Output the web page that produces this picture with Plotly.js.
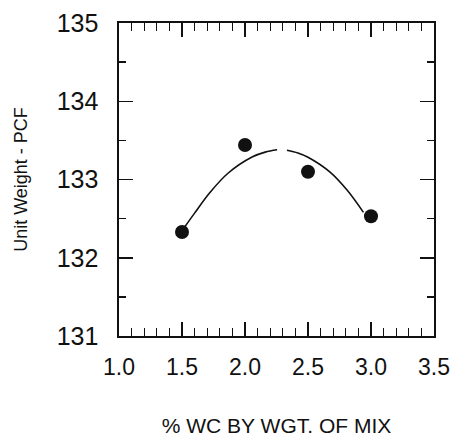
<!DOCTYPE html>
<html><head><meta charset="utf-8">
<script src="https://cdn.plot.ly/plotly-3.0.1.min.js"></script>
<style>html,body{margin:0;padding:0;background:#fff}</style>
</head><body><div id="chart" style="width:458px;height:438px"></div>
<script>
const pointX = [1.5, 2.0, 2.5, 3.0];
const pointY = [132.33, 133.44, 133.1, 132.53];
const curveX = [1.52, 1.6, 1.72, 1.865, 2.06, 2.16, 2.255, null, 2.333, 2.42, 2.5, 2.675, 2.81, 2.94];
const curveY = [132.39, 132.57, 132.83, 133.08, 133.29, 133.35, 133.38, null, 133.375, 133.34, 133.285, 133.095, 132.865, 132.58];
const xTicks = [1.0, 1.5, 2.0, 2.5, 3.0, 3.5];
const xTickText = ['1.0', '1.5', '2.0', '2.5', '3.0', '3.5'];
const yTicks = [131, 132, 133, 134, 135];

const font = 'Liberation Sans, Arial, Helvetica, sans-serif';
Plotly.newPlot('chart', [
  {x: curveX, y: curveY, mode: 'lines', line: {color: '#111', width: 1.6, shape: 'spline', smoothing: 1}, connectgaps: false, hoverinfo: 'skip'},
  {x: pointX, y: pointY, mode: 'markers', marker: {color: '#111', size: 14}}
], {
  width: 458, height: 438,
  margin: {l: 119, r: 24, t: 23, b: 102},
  showlegend: false,
  paper_bgcolor: '#fff', plot_bgcolor: '#fff',
  font: {family: font, color: '#111'},
  xaxis: {
    range: [1.0, 3.5], tickvals: xTicks, ticktext: xTickText,
    ticks: 'inside', ticklen: 14, tickwidth: 1.5, tickcolor: '#111',
    minor: {dtick: 0.1, tick0: 1.0, ticks: 'inside', ticklen: 8, tickwidth: 1.3, tickcolor: '#111'},
    showline: true, linecolor: '#111', linewidth: 1.6, mirror: 'ticks',
    showgrid: false, zeroline: false, ticklabelstandoff: 10,
    tickfont: {size: 23, family: font, color: '#111'},
    title: {text: '% WC BY WGT. OF MIX', font: {size: 21, family: font, color: '#111'}, standoff: 39}
  },
  yaxis: {
    range: [131, 135], tickvals: yTicks,
    ticks: 'inside', ticklen: 14, tickwidth: 1.5, tickcolor: '#111',
    minor: {dtick: 0.5, tick0: 131, ticks: 'inside', ticklen: 7, tickwidth: 1.3, tickcolor: '#111'},
    showline: true, linecolor: '#111', linewidth: 1.6, mirror: 'ticks',
    showgrid: false, zeroline: false, ticklabelstandoff: 14,
    tickfont: {size: 25, family: font, color: '#111'},
    title: {text: 'Unit Weight - PCF', font: {size: 18, family: font, color: '#111'}, standoff: 24}
  }
}, {displayModeBar: false, staticPlot: true});
</script></body></html>
